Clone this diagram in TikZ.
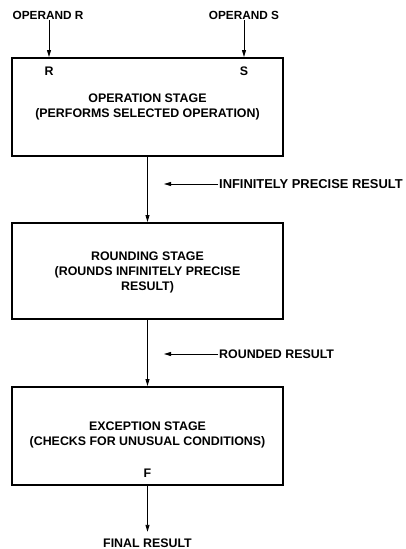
\documentclass[tikz,border=0pt]{standalone}
\usepackage{fontspec}
\setmainfont{Liberation Sans}
\usetikzlibrary{arrows.meta}
\begin{document}
\begin{tikzpicture}[x=1pt,y=-1pt,
  lbl/.style={font=\bfseries\fontsize{12.4}{15}\selectfont, inner sep=1pt, align=center},
  stage/.style={draw, line width=1.8pt, minimum width=271pt, inner sep=0pt, anchor=north},
  arr/.style={line width=0.9pt, -{Triangle[length=7pt,width=4pt]}}]
\useasboundingbox (0,0) rectangle (405,549);

% stage boxes
\node[stage, minimum height=98pt] (op) at (147.5,57) {};
\node[stage, minimum height=96pt] (rnd) at (147.5,222) {};
\node[stage, minimum height=98pt] (exc) at (147.5,386) {};

% text inside the boxes
\node[lbl] (inR) at (49,71) {R};
\node[lbl] (inS) at (244,71) {S};
\node[lbl] (optxt) at (147.5,106.5) {OPERATION STAGE\\(PERFORMS SELECTED OPERATION)};
\node[lbl] (rndtxt) at (147.5,272.5) {ROUNDING STAGE\\(ROUNDS INFINITELY PRECISE\\RESULT)};
\node[lbl] (exctxt) at (147.5,435) {EXCEPTION STAGE\\(CHECKS FOR UNUSUAL CONDITIONS)};
\node[lbl] (outF) at (147.5,473) {F};

% operands
\node[lbl, font=\bfseries\fontsize{11.8}{14}\selectfont] (opR) at (48,15) {OPERAND R};
\node[lbl, font=\bfseries\fontsize{11.8}{14}\selectfont] (opS) at (244,15) {OPERAND S};
\draw[arr] (opR.south -| inR) -- (inR |- op.north);
\draw[arr] (opS.south -| inS) -- (inS |- op.north);

% flow between stages
\draw[arr] (op.south) -- (rnd.north);
\draw[arr] (rnd.south) -- (exc.north);
\node[lbl, anchor=south] (fin) at (147.5,549) {FINAL RESULT};
\draw[arr] (exc.south) -- ++(0,46) coordinate (finTip);

% intermediate results
\node[lbl, anchor=west, font=\bfseries\fontsize{12.9}{15}\selectfont] (ipr) at (218,184) {INFINITELY PRECISE RESULT};
\coordinate (iprTip) at (164,184);
\draw[arr] (ipr.west) -- (iprTip);
\node[lbl, anchor=west] (rr) at (218,354) {ROUNDED RESULT};
\coordinate (rrTip) at (164,354);
\draw[arr] (rr.west) -- (rrTip);
\end{tikzpicture}
\end{document}
